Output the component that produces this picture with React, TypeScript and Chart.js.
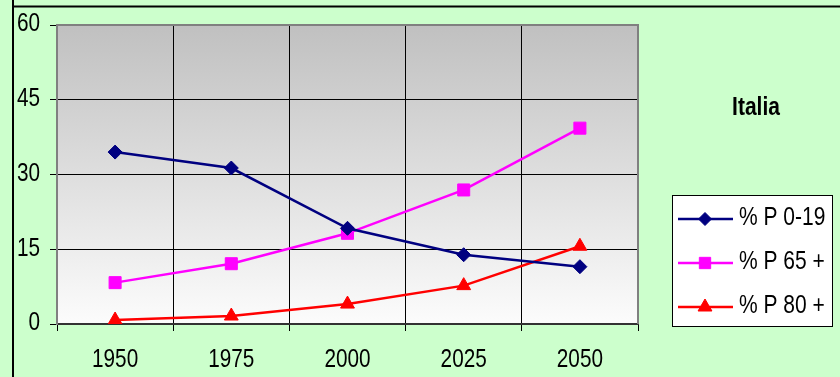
import React, { useEffect, useRef } from 'react';
import { Chart, registerables } from 'chart.js';
import { drawPoint } from 'chart.js/helpers';

Chart.register(...registerables);

const years = ['1950', '1975', '2000', '2025', '2050'];
const p019 = [34.5, 31.3, 19.2, 13.9, 11.5];
const p65 = [8.3, 12.1, 18.2, 26.9, 39.3];
const p80 = [0.8, 1.6, 4.0, 7.7, 15.6];
const seriesLabels = ['% P 0-19', '% P 65 +', '% P 80 +'];
const seriesColors = ['#000080', '#FF00FF', '#FF0000'];
const seriesStyles = ['rectRot', 'rect', 'triangle'];
const yTicks = [0, 15, 30, 45, 60];
const titleText = 'Italia';

const FONT = "'Liberation Sans', Arial, sans-serif";
const SX = 0.83;

function txt(ctx: any, s: string, x: number, y: number, align: string, font: string, sx = SX) {
  ctx.save();
  ctx.translate(x, y);
  ctx.scale(sx, 1);
  ctx.font = font;
  ctx.textAlign = align;
  ctx.textBaseline = 'middle';
  ctx.fillStyle = '#000';
  ctx.fillText(s, 0, 0);
  ctx.restore();
}

const decor = {
  id: 'decor',
  beforeDraw(chart: any) {
    const { ctx, chartArea: a, width, height } = chart;
    ctx.save();
    ctx.fillStyle = '#CCFFCC';
    ctx.fillRect(0, 0, width, height);
    const g = ctx.createLinearGradient(0, a.top, 0, a.bottom);
    g.addColorStop(0, '#c0c0c0');
    g.addColorStop(1, '#fcfcfc');
    ctx.fillStyle = g;
    ctx.fillRect(a.left, a.top, a.right - a.left, a.bottom - a.top);
    ctx.strokeStyle = '#000';
    ctx.lineWidth = 2;
    ctx.beginPath();
    ctx.moveTo(13, 0);
    ctx.lineTo(13, height);
    ctx.stroke();
    ctx.beginPath();
    ctx.moveTo(14, 6.5);
    ctx.lineTo(width, 6.5);
    ctx.stroke();
    ctx.restore();
  },
  beforeDatasetsDraw(chart: any) {
    const { ctx, chartArea: a } = chart;
    ctx.save();
    ctx.strokeStyle = '#808080';
    ctx.lineWidth = 2;
    ctx.beginPath();
    ctx.moveTo(a.left, a.top);
    ctx.lineTo(a.right, a.top);
    ctx.lineTo(a.right, a.bottom);
    ctx.stroke();
    ctx.restore();
  },
  afterDraw(chart: any) {
    const { ctx, scales } = chart;
    const f = `25px ${FONT}`;
    // tick labels
    years.forEach((yr, i) => {
      txt(ctx, yr, scales.x.getPixelForValue(i), 360, 'center', f);
    });
    yTicks.forEach((v) => {
      txt(ctx, String(v), 40, scales.y.getPixelForValue(v) - 0.5, 'right', f);
    });
    // title
    txt(ctx, titleText, 756, 108, 'center', `bold 25px ${FONT}`, 0.84);
    // legend box
    ctx.save();
    ctx.fillStyle = '#fff';
    ctx.fillRect(672.5, 195.5, 160, 131);
    ctx.strokeStyle = '#000';
    ctx.lineWidth = 1;
    ctx.strokeRect(672.5, 195.5, 160, 131);
    ctx.restore();
    const radii = [6.5, 8, 8];
    seriesLabels.forEach((label, i) => {
      const y = 219 + i * 44;
      ctx.save();
      ctx.strokeStyle = seriesColors[i];
      ctx.fillStyle = seriesColors[i];
      ctx.lineWidth = 2.5;
      ctx.beginPath();
      ctx.moveTo(678, y);
      ctx.lineTo(733, y);
      ctx.stroke();
      ctx.lineWidth = 1;
      drawPoint(ctx, { pointStyle: seriesStyles[i], rotation: 0, radius: radii[i], borderWidth: 1 } as any, 705, y);
      ctx.restore();
      txt(ctx, label, 739, y - 1, 'left', f, 0.84);
    });
  },
};

export default function App() {
  const ref = useRef<HTMLCanvasElement | null>(null);
  useEffect(() => {
    if (!ref.current) return;
    const data = [p019, p65, p80];
    const radii = [7, 8.5, 8];
    const chart = new Chart(ref.current, {
      type: 'line',
      data: {
        labels: years,
        datasets: seriesLabels.map((label, i) => ({
          label,
          data: data[i],
          borderColor: seriesColors[i],
          backgroundColor: seriesColors[i],
          pointBackgroundColor: seriesColors[i],
          pointBorderColor: seriesColors[i],
          pointStyle: seriesStyles[i] as any,
          pointRadius: radii[i],
          pointBorderWidth: 1,
          borderWidth: 2.5,
          tension: 0,
          fill: false,
        })),
      },
      options: {
        responsive: false,
        animation: false,
        devicePixelRatio: 1,
        layout: { padding: { top: 25, right: 202, left: 0, bottom: 0 } },
        plugins: { legend: { display: false }, tooltip: { enabled: false }, title: { display: false } },
        scales: {
          x: {
            type: 'category',
            offset: true,
            grid: { offset: true, color: '#000', lineWidth: 1, drawTicks: true, tickLength: 7, tickColor: '#000' },
            border: { color: '#333', width: 2 },
            ticks: { color: 'rgba(0,0,0,0)', font: { family: FONT, size: 20 }, padding: 10, maxRotation: 0, autoSkip: false },
            afterFit: (s: any) => { s.height = 53; },
          },
          y: {
            min: 0,
            max: 60,
            afterBuildTicks: (s: any) => { s.ticks = yTicks.map((v) => ({ value: v })); },
            grid: { color: '#000', lineWidth: 1, tickLength: 7, tickColor: '#000' },
            border: { color: '#808080', width: 2 },
            ticks: { color: 'rgba(0,0,0,0)', font: { family: FONT, size: 20 }, padding: 10 },
            afterFit: (s: any) => { s.width = 57; },
          },
        },
      },
      plugins: [decor],
    } as any);
    return () => chart.destroy();
  }, []);
  return (
    <div style={{ position: 'absolute', left: 0, top: 0, width: 840, height: 377, background: '#CCFFCC' }}>
      <canvas ref={ref} width={840} height={377} style={{ display: 'block' }} />
    </div>
  );
}
